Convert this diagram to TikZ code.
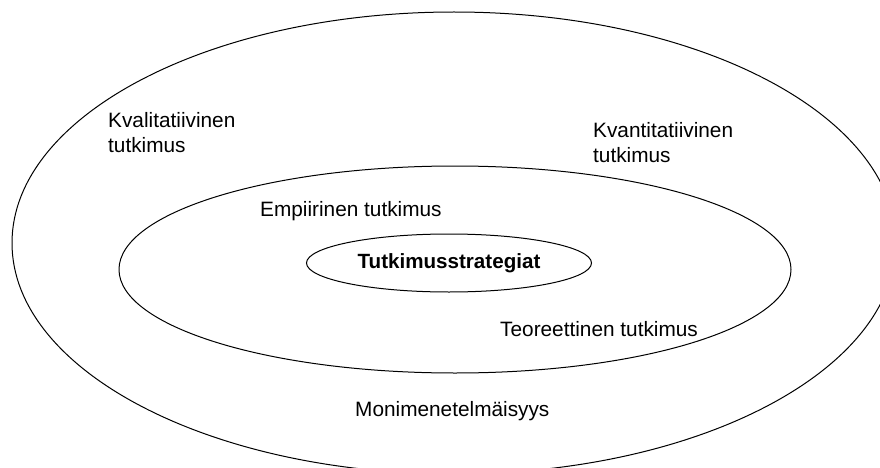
\documentclass[tikz,border=0pt]{standalone}
\usepackage{fontspec}
\setmainfont{Liberation Sans}
\usetikzlibrary{shapes.geometric}
\begin{document}
\begin{tikzpicture}[x=1pt,y=-1pt,
  ring/.style={draw=black,line width=1pt,ellipse,inner sep=0pt},
  lbl/.style={font=\fontsize{20.8}{25}\selectfont,inner sep=0pt,align=left,text=black}]
\useasboundingbox (0,0) rectangle (880,468);
\node[ring,minimum width=884,minimum height=462] (outer) at (454,243) {};
\node[ring,minimum width=672,minimum height=207] (middle) at (455,269.5) {};
\node[ring,minimum width=285,minimum height=58,font=\fontsize{20.6}{24}\selectfont\bfseries] (inner) at (449,263) {Tutkimusstrategiat};
\node[lbl,anchor=west] (kval) at (108,133) {Kvalitatiivinen\\tutkimus};
\node[lbl,anchor=west] (kvan) at (593,143) {Kvantitatiivinen\\tutkimus};
\node[lbl,anchor=west] (emp) at (260,211) {Empiirinen tutkimus};
\node[lbl,anchor=west] (teo) at (500,329) {Teoreettinen tutkimus};
\node[lbl,anchor=west] (moni) at (355,411) {Monimenetelmäisyys};
\end{tikzpicture}
\end{document}
